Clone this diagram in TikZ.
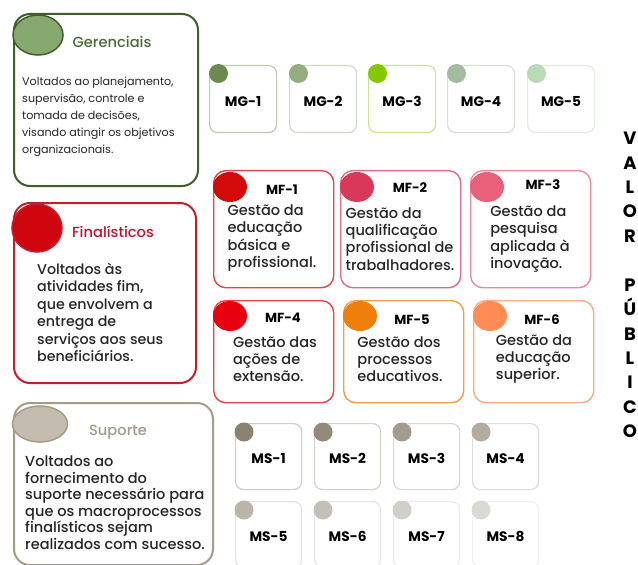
\documentclass[tikz,border=0pt]{standalone}
\usepackage{fontspec}
\setmainfont{Poppins}
\newfontfamily\popmed{Poppins Medium}
\usetikzlibrary{shapes.geometric}

\definecolor{gerline}{HTML}{3F5E2B}
\definecolor{gerdotc}{HTML}{86A96F}
\definecolor{gertit}{HTML}{4B6B36}
\definecolor{finline}{HTML}{C41E2A}
\definecolor{findotc}{HTML}{D0060F}
\definecolor{fintit}{HTML}{C8102E}
\definecolor{supline}{HTML}{A59C88}
\definecolor{supdotc}{HTML}{C3BCAF}
\definecolor{suptit}{HTML}{A39B8E}
\definecolor{mg1}{HTML}{6B8A50}
\definecolor{mg2}{HTML}{93AD7C}
\definecolor{mg3}{HTML}{86C800}
\definecolor{mg4}{HTML}{A3BC9F}
\definecolor{mg5}{HTML}{B8DAB4}
\definecolor{mf1}{HTML}{D20A0A}
\definecolor{mf2}{HTML}{D8395A}
\definecolor{mf3}{HTML}{E8607A}
\definecolor{mf4}{HTML}{E8000F}
\definecolor{mf5}{HTML}{EF7F0A}
\definecolor{mf6}{HTML}{FF8C55}
\definecolor{ms1}{HTML}{8B8171}
\definecolor{ms2}{HTML}{938A7A}
\definecolor{ms3}{HTML}{A39B8D}
\definecolor{ms4}{HTML}{B2AB9E}
\definecolor{ms5}{HTML}{BAB4A9}
\definecolor{ms6}{HTML}{C5C0B7}
\definecolor{ms7}{HTML}{D2CEC8}
\definecolor{ms8}{HTML}{DCD9D4}

\tikzset{
	catbox/.style={draw, line width=2bp, rounded corners=16bp, fill=white, anchor=north west, inner sep=0pt},
	catdot/.style={ellipse, draw, line width=1.5bp, inner sep=0pt},
	cattitle/.style={font=\popmed\fontsize{14.7}{17}\selectfont},
	smallbox/.style={draw, line width=1.2bp, rounded corners=8bp, fill=white, anchor=north west, inner sep=0pt,
		minimum width=67bp, minimum height=67bp, text height=14bp, text depth=0pt, font=\bfseries\fontsize{13.8}{16}\selectfont},
	smalldot/.style={circle, inner sep=0pt, minimum size=19bp},
	mfbox/.style={draw, line width=1.4bp, rounded corners=12bp, fill=white, anchor=north west, inner sep=0pt, minimum width=120bp},
	mfdot/.style={ellipse, inner sep=0pt, minimum width=34bp, minimum height=30bp},
	mfcode/.style={font=\bfseries\fontsize{13.2}{15}\selectfont},
	mftext/.style={align=left, inner sep=0pt, text=black!85, font=\popmed\fontsize{14.6}{17.3}\selectfont},
	bodytext/.style={align=left, inner sep=0pt, anchor=west, text=black!85},
}

\begin{document}
\begin{tikzpicture}[x=1bp, y=-1bp]
	\fill[white] (0,0) rectangle (638,565);
	\useasboundingbox (0,0) rectangle (638,565);

	% categorias
	\node[catbox, draw=gerline, minimum width=184bp, minimum height=172bp] (ger) at (13,13) {};
	\node[catdot, draw=gerline, fill=gerdotc, minimum width=50bp, minimum height=40bp] (gerdot) at (38,35) {};
	\node[cattitle, text=gertit] (gertitle) at (112,42) {Gerenciais};
	\node[bodytext, font=\fontsize{11.2}{17}\selectfont] (gerbody) at (22,116.5) {Voltados ao planejamento,\\supervisão, controle e\\tomada de decisões,\\visando atingir os objetivos\\organizacionais.};

	\node[catbox, draw=finline, minimum width=182bp, minimum height=180bp] (fin) at (13,202) {};
	\node[catdot, draw=finline, fill=findotc, minimum width=50bp, minimum height=48bp] (findot) at (37,228) {};
	\node[cattitle, text=fintit] (fintitle) at (113,232) {Finalísticos};
	\node[bodytext, font=\popmed\fontsize{14.3}{17.5}\selectfont] (finbody) at (37,312.5) {Voltados às\\atividades fim,\\que envolvem a\\entrega de\\serviços aos seus\\beneficiários.};

	\node[catbox, draw=supline, minimum width=199bp, minimum height=162bp] (sup) at (13,402) {};
	\node[catdot, draw=supline, fill=supdotc, minimum width=55bp, minimum height=36bp] (supdot) at (40,424) {};
	\node[cattitle, text=suptit] (suptitle) at (118,432) {Suporte};
	\node[bodytext, font=\popmed\fontsize{14.6}{16.6}\selectfont] (supbody) at (25,502.5) {Voltados ao\\fornecimento do\\suporte necessário para\\que os macroprocessos\\finalísticos sejam\\realizados com sucesso.};

	% gerenciais
	\node[smallbox, draw=mg1!45] (mg-1) at (209,65) {MG-1};
	\node[smallbox, draw=mg2!45] (mg-2) at (289,65) {MG-2};
	\node[smallbox, draw=mg3!45] (mg-3) at (368,65) {MG-3};
	\node[smallbox, draw=mg4!45] (mg-4) at (447,65) {MG-4};
	\node[smallbox, draw=mg5!45] (mg-5) at (527,65) {MG-5};
	\node[smalldot, fill=mg1] (mg-1dot) at ([shift={(9.5,8.5)}]mg-1.north west) {};
	\node[smalldot, fill=mg2] (mg-2dot) at ([shift={(9.5,8.5)}]mg-2.north west) {};
	\node[smalldot, fill=mg3] (mg-3dot) at ([shift={(9.5,8.5)}]mg-3.north west) {};
	\node[smalldot, fill=mg4] (mg-4dot) at ([shift={(9.5,8.5)}]mg-4.north west) {};
	\node[smalldot, fill=mg5] (mg-5dot) at ([shift={(9.5,8.5)}]mg-5.north west) {};

	% finalisticos
	\node[mfbox, draw=mf1!75, minimum height=117bp] (mf-1) at (213,170) {};
	\node[mfbox, draw=mf2!75, minimum height=117bp] (mf-2) at (340,170) {};
	\node[mfbox, draw=mf3!75, minimum height=117bp] (mf-3) at (470,170) {};
	\node[mfbox, draw=mf4!75, minimum height=102bp] (mf-4) at (213,300) {};
	\node[mfbox, draw=mf5!75, minimum height=102bp] (mf-5) at (343,300) {};
	\node[mfbox, draw=mf6!75, minimum height=102bp] (mf-6) at (473,300) {};
	\node[mfdot, fill=mf1] (mf-1dot) at ([shift={(17,17)}]mf-1.north west) {};
	\node[mfdot, fill=mf2] (mf-2dot) at ([shift={(17,17)}]mf-2.north west) {};
	\node[mfdot, fill=mf3] (mf-3dot) at ([shift={(17,17)}]mf-3.north west) {};
	\node[mfdot, fill=mf4] (mf-4dot) at ([shift={(17,16)}]mf-4.north west) {};
	\node[mfdot, fill=mf5] (mf-5dot) at ([shift={(17,16)}]mf-5.north west) {};
	\node[mfdot, fill=mf6] (mf-6dot) at ([shift={(17,16)}]mf-6.north west) {};
	\node[mfcode] (mf-1code) at (282,190) {MF-1};
	\node[mfcode] (mf-2code) at (410,188) {MF-2};
	\node[mfcode] (mf-3code) at (543,185) {MF-3};
	\node[mfcode] (mf-4code) at (283,318) {MF-4};
	\node[mfcode] (mf-5code) at (412,320) {MF-5};
	\node[mfcode] (mf-6code) at (542,320) {MF-6};
	\node[mftext] (mf-1text) at (272,238) {Gestão da\\educação\\básica e\\profissional.};
	\node[mftext] (mf-2text) at (400,239) {Gestão da\\qualificação\\profissional de\\trabalhadores.};
	\node[mftext] (mf-3text) at (530,239) {Gestão da\\pesquisa\\aplicada à\\inovação.};
	\node[mftext] (mf-4text) at (275,359) {Gestão das\\ações de\\extensão.};
	\node[mftext] (mf-5text) at (400,359) {Gestão dos\\processos\\educativos.};
	\node[mftext] (mf-6text) at (534,359) {Gestão da\\educação\\superior.};

	% suporte
	\node[smallbox, draw=ms1!40, minimum width=66bp, minimum height=66bp] (ms-1) at (235,423) {MS-1};
	\node[smallbox, draw=ms2!40, minimum width=66bp, minimum height=66bp] (ms-2) at (314,423) {MS-2};
	\node[smallbox, draw=ms3!40, minimum width=66bp, minimum height=66bp] (ms-3) at (393,423) {MS-3};
	\node[smallbox, draw=ms4!40, minimum width=66bp, minimum height=66bp] (ms-4) at (472,423) {MS-4};
	\node[smallbox, draw=ms5!40, minimum width=66bp, minimum height=66bp] (ms-5) at (235,501) {MS-5};
	\node[smallbox, draw=ms6!40, minimum width=66bp, minimum height=66bp] (ms-6) at (314,501) {MS-6};
	\node[smallbox, draw=ms7!40, minimum width=66bp, minimum height=66bp] (ms-7) at (393,501) {MS-7};
	\node[smallbox, draw=ms8!40, minimum width=66bp, minimum height=66bp] (ms-8) at (472,501) {MS-8};
	\node[smalldot, fill=ms1] (ms-1dot) at ([shift={(9,9)}]ms-1.north west) {};
	\node[smalldot, fill=ms2] (ms-2dot) at ([shift={(9,9)}]ms-2.north west) {};
	\node[smalldot, fill=ms3] (ms-3dot) at ([shift={(9,9)}]ms-3.north west) {};
	\node[smalldot, fill=ms4] (ms-4dot) at ([shift={(9,9)}]ms-4.north west) {};
	\node[smalldot, fill=ms5] (ms-5dot) at ([shift={(9,9)}]ms-5.north west) {};
	\node[smalldot, fill=ms6] (ms-6dot) at ([shift={(9,9)}]ms-6.north west) {};
	\node[smalldot, fill=ms7] (ms-7dot) at ([shift={(9,9)}]ms-7.north west) {};
	\node[smalldot, fill=ms8] (ms-8dot) at ([shift={(9,9)}]ms-8.north west) {};

	% valor publico
	\node[align=center, font=\bfseries\fontsize{18}{24.5}\selectfont] (valor) at (630,285) {V\\A\\L\\O\\R\\[24.5bp]P\\Ú\\B\\L\\I\\C\\O};
\end{tikzpicture}
\end{document}
